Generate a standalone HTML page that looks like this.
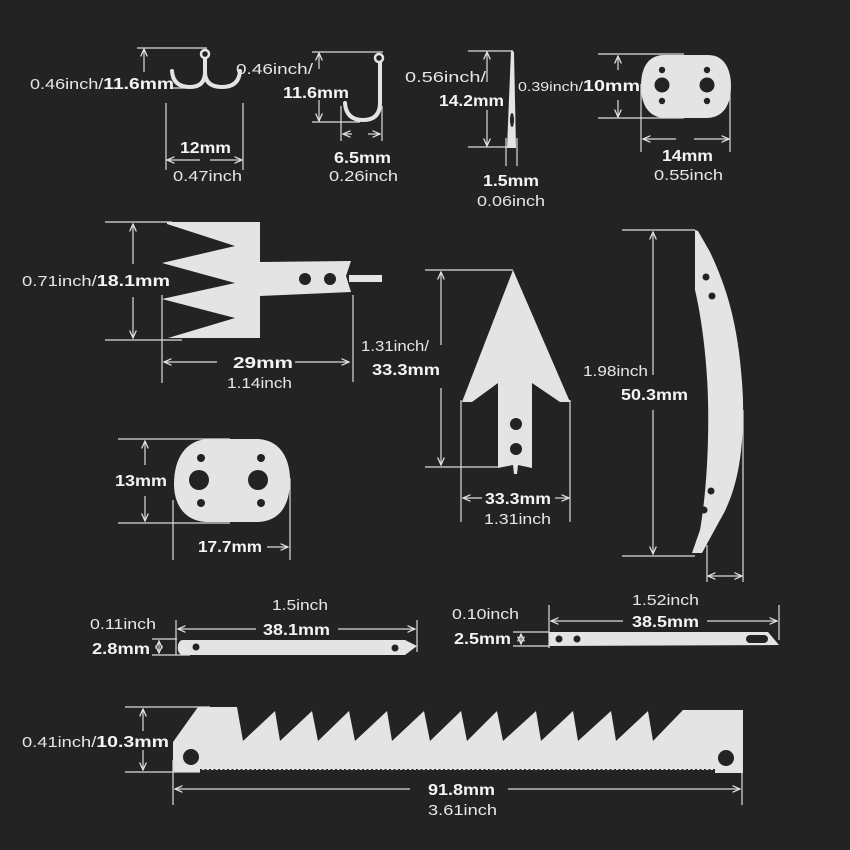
<!DOCTYPE html>
<html><head><meta charset="utf-8"><style>
html,body{margin:0;padding:0;background:#232323;}
svg{display:block}
text{font-family:"Liberation Sans",sans-serif;fill:#e6e6e6;font-size:15px}
.b{font-weight:bold;fill:#f4f4f4;font-size:16px}
.l{stroke:#dcdcdc;stroke-width:1.2;fill:none}
.s{fill:#e4e4e4}
.h{fill:#232323}
</style></head><body>
<svg width="850" height="850" viewBox="0 0 850 850" xmlns="http://www.w3.org/2000/svg">
<defs>
<marker id="a" viewBox="0 0 10 10" refX="9" refY="5" markerWidth="7" markerHeight="7" orient="auto-start-reverse"><path d="M0,1 L9,5 L0,9" fill="none" stroke="#e0e0e0" stroke-width="1.5"/></marker>
</defs>
<rect width="850" height="850" fill="#232323"/>

<!-- Hook 1 -->
<path class="l" d="M137,48H207 M137,88H185 M166,103V170 M243,103V170"/>
<path class="l" d="M144,49V72" marker-start="url(#a)"/><path class="l" d="M144,76V87" marker-end="url(#a)"/>
<path class="l" d="M167,160H200" marker-start="url(#a)"/><path class="l" d="M210,160H242" marker-end="url(#a)"/>
<rect x="100" y="73" width="70" height="19" fill="#232323"/>
<g fill="none" stroke="#e4e4e4" stroke-width="4" stroke-linecap="round">
<circle cx="205" cy="54" r="4" stroke-width="2.5"/>
<path d="M205,59 L205,72 Q205,87 190,87 Q173,87 172,71"/>
<path d="M205,72 Q205,87 222,87 Q239,87 240,71"/>
</g>
<text x="30" y="89" textLength="144" lengthAdjust="spacingAndGlyphs">0.46inch/<tspan class="b">11.6mm</tspan></text>
<rect x="176" y="136" width="58" height="18" fill="#232323"/>
<text x="180" y="153" class="b" textLength="51" lengthAdjust="spacingAndGlyphs">12mm</text>
<text x="173" y="181" textLength="69" lengthAdjust="spacingAndGlyphs">0.47inch</text>

<!-- Hook 2 -->
<g fill="none" stroke="#e4e4e4" stroke-width="4" stroke-linecap="round">
<circle cx="379" cy="58" r="4" stroke-width="2.5"/>
<path d="M380,63 L380,103 Q380,120 363,120 Q346,120 345,103"/>
</g>
<path class="l" d="M312,52H383 M312,122H360 M341,106V141 M382,106V141"/>
<path class="l" d="M319,53V69" marker-start="url(#a)"/><path class="l" d="M319,100V121" marker-end="url(#a)"/>
<path class="l" d="M343,134H352" marker-start="url(#a)"/><path class="l" d="M368,134H380" marker-end="url(#a)"/>
<text x="236" y="74" textLength="77" lengthAdjust="spacingAndGlyphs">0.46inch/</text>
<text x="283" y="98" class="b" textLength="66" lengthAdjust="spacingAndGlyphs">11.6mm</text>
<text x="334" y="163" class="b" textLength="57" lengthAdjust="spacingAndGlyphs">6.5mm</text>
<text x="329" y="181" textLength="69" lengthAdjust="spacingAndGlyphs">0.26inch</text>

<!-- Needle -->
<path class="s" d="M511,50 L514,52 L516,148 L507,148 Z"/>
<ellipse cx="512" cy="120" rx="2" ry="7" class="h"/>
<path class="l" d="M468,51H513 M468,147H513 M506,138V166 M517,138V166"/>
<path class="l" d="M487,52V82" marker-start="url(#a)"/><path class="l" d="M487,110V146" marker-end="url(#a)"/>
<text x="405" y="82" textLength="81" lengthAdjust="spacingAndGlyphs">0.56inch/</text>
<text x="439" y="106" class="b" textLength="65" lengthAdjust="spacingAndGlyphs">14.2mm</text>
<text x="483" y="186" class="b" textLength="56" lengthAdjust="spacingAndGlyphs">1.5mm</text>
<text x="477" y="206" textLength="68" lengthAdjust="spacingAndGlyphs">0.06inch</text>

<!-- small plate -->
<path class="s" d="M664,55 H708 C726,55 731,72 731,86 C731,104 724,118 706,118 H666 C648,118 641,104 641,86 C641,68 648,55 664,55Z"/>
<circle cx="662" cy="85" r="7.5" class="h"/><circle cx="707" cy="85" r="7.5" class="h"/>
<circle cx="662" cy="70" r="3.2" class="h"/><circle cx="707" cy="70" r="3.2" class="h"/>
<circle cx="662" cy="101" r="3.2" class="h"/><circle cx="707" cy="101" r="3.2" class="h"/>
<path class="l" d="M598,54H684 M598,118H684 M641,84V152 M730,84V152"/>
<path class="l" d="M618,56V70" marker-start="url(#a)"/><path class="l" d="M618,100V117" marker-end="url(#a)"/>
<path class="l" d="M643,139H676" marker-start="url(#a)"/><path class="l" d="M694,139H729" marker-end="url(#a)"/>
<text x="518" y="91" textLength="122" lengthAdjust="spacingAndGlyphs"><tspan style="font-size:13px">0.39inch/</tspan><tspan class="b">10mm</tspan></text>
<text x="662" y="161" class="b" textLength="51" lengthAdjust="spacingAndGlyphs">14mm</text>
<text x="654" y="180" textLength="69" lengthAdjust="spacingAndGlyphs">0.55inch</text>

<!-- fork -->
<path class="s" d="M167,222 L260,222 L260,262 L351,261 L346,276 L351,292 L260,296 L260,338 L168,338 L235,318 L162,299 L235,283 L162,263 L235,246 L167,224Z"/>
<circle cx="305" cy="279" r="6" class="h"/><circle cx="330" cy="279" r="6" class="h"/>
<rect x="349" y="275" width="33" height="7" class="s"/>
<path class="l" d="M105,222H172 M105,340H182 M162,295V383 M353,295V382"/>
<path class="l" d="M133,224V264" marker-start="url(#a)"/><path class="l" d="M133,297V338" marker-end="url(#a)"/>
<path class="l" d="M164,362H217" marker-start="url(#a)"/><path class="l" d="M295,362H349" marker-end="url(#a)"/>
<text x="22" y="286" textLength="148" lengthAdjust="spacingAndGlyphs">0.71inch/<tspan class="b">18.1mm</tspan></text>
<text x="233" y="368" class="b" textLength="60" lengthAdjust="spacingAndGlyphs">29mm</text>
<text x="227" y="388" textLength="65" lengthAdjust="spacingAndGlyphs">1.14inch</text>

<!-- arrowhead -->
<path class="s" d="M513,270 L570,402 L560,402 L532,383 L532,468 L518,465 L517,474 L514,474 L513,465 L498,468 L498,383 L472,402 L462,402 Z"/>
<circle cx="516" cy="424" r="6" class="h"/><circle cx="516" cy="449" r="6" class="h"/>
<path class="l" d="M425,270H513 M425,467H500 M461,400V522 M570,400V522"/>
<path class="l" d="M441,272V345" marker-start="url(#a)"/><path class="l" d="M441,388V465" marker-end="url(#a)"/>
<path class="l" d="M463,498H482" marker-start="url(#a)"/><path class="l" d="M555,498H569" marker-end="url(#a)"/>
<text x="361" y="351" textLength="68" lengthAdjust="spacingAndGlyphs">1.31inch/</text>
<text x="372" y="375" class="b" textLength="68" lengthAdjust="spacingAndGlyphs">33.3mm</text>
<text x="485" y="504" class="b" textLength="66" lengthAdjust="spacingAndGlyphs">33.3mm</text>
<text x="484" y="524" textLength="67" lengthAdjust="spacingAndGlyphs">1.31inch</text>

<!-- curved blade -->
<path class="s" d="M695,230 L698,231 L710,252 C728,290 740,330 743,400 C744,450 738,490 720,520 L702,553 L692,553 L700,530 C707,490 709,440 708,400 C707,360 702,320 695,290 Z"/>
<circle cx="706" cy="277" r="3.5" class="h"/><circle cx="712" cy="296" r="3.5" class="h"/>
<circle cx="711" cy="491" r="3.5" class="h"/><circle cx="704" cy="510" r="3.5" class="h"/>
<path class="l" d="M622,230H695 M622,556H695 M707,545V582 M743,410V582"/>
<path class="l" d="M653,232V375" marker-start="url(#a)"/><path class="l" d="M653,410V554" marker-end="url(#a)"/>
<path class="l" d="M708,576H742" marker-start="url(#a)" marker-end="url(#a)"/>
<text x="583" y="376" textLength="65" lengthAdjust="spacingAndGlyphs">1.98inch</text>
<text x="621" y="400" class="b" textLength="67" lengthAdjust="spacingAndGlyphs">50.3mm</text>

<!-- plate 2 -->
<path class="s" d="M210,439 H256 C281,439 290,460 290,480 C290,505 280,522 256,522 H208 C186,522 174,506 174,484 C174,458 186,439 210,439Z"/>
<circle cx="199" cy="480" r="10" class="h"/><circle cx="258" cy="480" r="10" class="h"/>
<circle cx="201" cy="458" r="4" class="h"/><circle cx="261" cy="458" r="4" class="h"/>
<circle cx="201" cy="503" r="4" class="h"/><circle cx="261" cy="503" r="4" class="h"/>
<path class="l" d="M118,439H230 M118,523H230 M173,500V560 M290,478V560"/>
<path class="l" d="M145,441V465" marker-start="url(#a)"/><path class="l" d="M145,496V521" marker-end="url(#a)"/>
<path class="l" d="M267,547H288" marker-end="url(#a)"/>
<text x="115" y="486" class="b" textLength="52" lengthAdjust="spacingAndGlyphs">13mm</text>
<text x="198" y="552" class="b" textLength="64" lengthAdjust="spacingAndGlyphs">17.7mm</text>

<!-- strip 1 -->
<path class="s" d="M183,640 L405,640 L417,646 L405,655 L183,655 C176,655 176,640 183,640Z"/>
<circle cx="196" cy="647" r="3.5" class="h"/><circle cx="395" cy="648" r="3.5" class="h"/>
<path class="l" d="M152,639H177 M152,655H190 M176,620V655 M417,620V652"/>
<path class="l" d="M159,641V653" marker-start="url(#a)" marker-end="url(#a)"/>
<path class="l" d="M178,629H256" marker-start="url(#a)"/><path class="l" d="M338,629H415" marker-end="url(#a)"/>
<text x="90" y="629" textLength="66" lengthAdjust="spacingAndGlyphs">0.11inch</text>
<text x="92" y="654" class="b" textLength="58" lengthAdjust="spacingAndGlyphs">2.8mm</text>
<text x="263" y="635" class="b" textLength="67" lengthAdjust="spacingAndGlyphs">38.1mm</text>
<text x="272" y="610" textLength="56" lengthAdjust="spacingAndGlyphs">1.5inch</text>

<!-- strip 2 -->
<path class="s" d="M549,632 L768,632 L779,645 L549,646 Z"/>
<circle cx="559" cy="639" r="3.5" class="h"/><circle cx="577" cy="639" r="3.5" class="h"/>
<rect x="746" y="635" width="22" height="8" rx="4" class="h"/>
<path class="l" d="M513,632H549 M513,646H549 M549,605V648 M779,605V640"/>
<path class="l" d="M521,634V644" marker-start="url(#a)" marker-end="url(#a)"/>
<path class="l" d="M551,621H623" marker-start="url(#a)"/><path class="l" d="M707,621H777" marker-end="url(#a)"/>
<text x="452" y="619" textLength="67" lengthAdjust="spacingAndGlyphs">0.10inch</text>
<text x="454" y="644" class="b" textLength="57" lengthAdjust="spacingAndGlyphs">2.5mm</text>
<text x="632" y="627" class="b" textLength="67" lengthAdjust="spacingAndGlyphs">38.5mm</text>
<text x="632" y="605" textLength="67" lengthAdjust="spacingAndGlyphs">1.52inch</text>

<!-- saw -->
<path class="s" d="M173,742 L173,772 L200,772 L200,770 L715,770 L715,773 L743,773 L743,710 L683,710 L653,741 L648,711 L616,741 L611,711 L578,741 L573,711 L541,741 L536,711 L503,741 L497,711 L467,741 L461,711 L430,741 L424,711 L392,741 L387,711 L355,741 L349,711 L318,741 L312,711 L280,741 L275,711 L243,741 L237,707 L198,707 Z"/>
<path d="M200,770 H715" stroke="#232323" stroke-width="2" stroke-dasharray="2 2.5"/>
<circle cx="191" cy="757" r="8" class="h"/><circle cx="726" cy="758" r="8" class="h"/>
<path class="l" d="M125,707H210 M125,772H200 M173,760V805 M742,760V805"/>
<path class="l" d="M143,709V731" marker-start="url(#a)"/><path class="l" d="M143,750V770" marker-end="url(#a)"/>
<path class="l" d="M175,789H410" marker-start="url(#a)"/><path class="l" d="M508,789H740" marker-end="url(#a)"/>
<text x="22" y="747" textLength="147" lengthAdjust="spacingAndGlyphs">0.41inch/<tspan class="b">10.3mm</tspan></text>
<text x="428" y="795" class="b" textLength="67" lengthAdjust="spacingAndGlyphs">91.8mm</text>
<text x="428" y="815" textLength="69" lengthAdjust="spacingAndGlyphs">3.61inch</text>
</svg>
</body></html>
